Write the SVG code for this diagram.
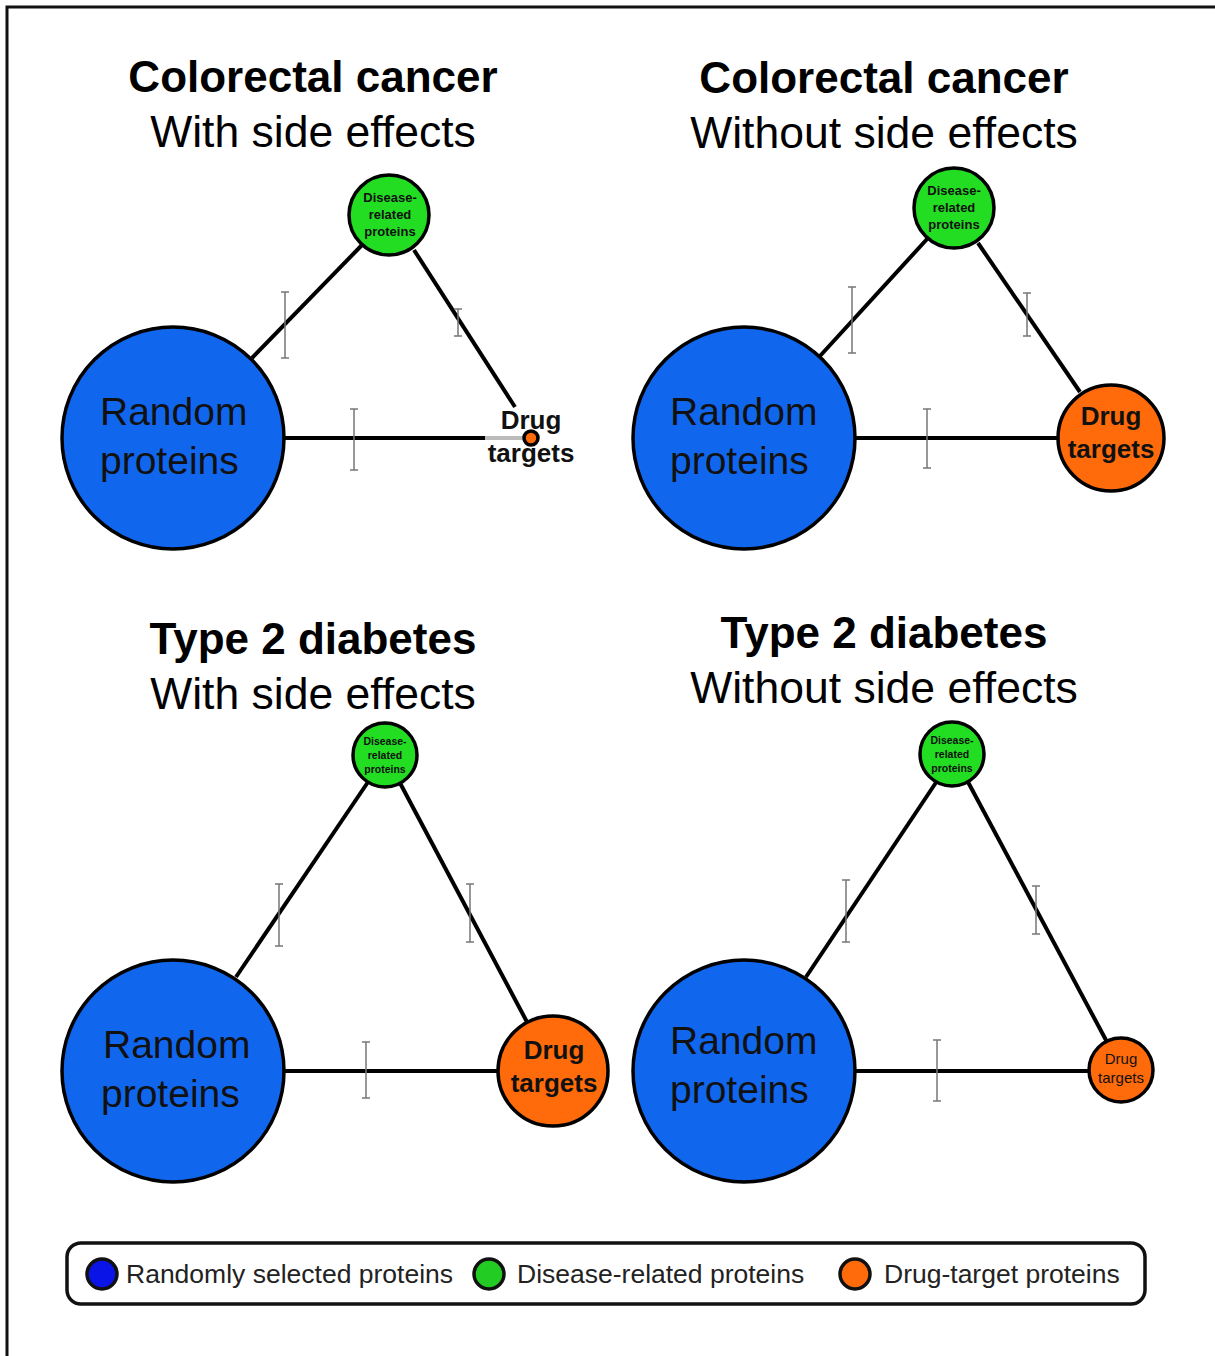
<svg xmlns="http://www.w3.org/2000/svg" width="1215" height="1356" viewBox="0 0 1215 1356">
<style>
.title{font-family:"Liberation Sans",Arial,sans-serif;font-size:44px;font-weight:bold;fill:#000;text-anchor:middle}
.sub{font-family:"Liberation Sans",Arial,sans-serif;font-size:44.5px;fill:#000;text-anchor:middle}
.rand{fill:#1166ee;stroke:#000;stroke-width:3.5}
.dis{fill:#22dd22;stroke:#000;stroke-width:3.5}
.drug{fill:#ff6a0a;stroke:#000;stroke-width:3.5}
.rtxt{font-family:"Liberation Sans",Arial,sans-serif;font-size:39px;fill:#111}
.dtxt{font-family:"Liberation Sans",Arial,sans-serif;font-size:13px;font-weight:bold;fill:#111;text-anchor:middle}
.dtxs{font-family:"Liberation Sans",Arial,sans-serif;font-size:10.5px;font-weight:bold;fill:#111;text-anchor:middle}
.gtxt{font-family:"Liberation Sans",Arial,sans-serif;font-size:26px;font-weight:bold;fill:#111;text-anchor:middle}
.gtxs{font-family:"Liberation Sans",Arial,sans-serif;font-size:15px;fill:#111;text-anchor:middle}
.edge{stroke:#000;stroke-width:4;fill:none}
.tick{stroke:#777;stroke-width:1.5;fill:none}
.leg{font-family:"Liberation Sans",Arial,sans-serif;font-size:26.5px;fill:#222}
</style>
<rect width="1215" height="1356" fill="#fff"/>
<path d="M7,1356 V7 H1215" fill="none" stroke="#111" stroke-width="3"/>

<g id="titles">
<text class="title" x="313" y="92">Colorectal cancer</text>
<text class="sub" x="313" y="147">With side effects</text>
<text class="title" x="884" y="93">Colorectal cancer</text>
<text class="sub" x="884" y="148">Without side effects</text>
<text class="title" x="313" y="654">Type 2 diabetes</text>
<text class="sub" x="313" y="709">With side effects</text>
<text class="title" x="884" y="648">Type 2 diabetes</text>
<text class="sub" x="884" y="703">Without side effects</text>
</g>

<g id="connectors">
<line class="edge" x1="252" y1="358" x2="362" y2="245"/>
<line class="edge" x1="414" y1="250" x2="515" y2="407"/>
<line class="edge" x1="284" y1="438" x2="485" y2="438"/>
<line x1="485" y1="438" x2="525" y2="438" stroke="#bbb" stroke-width="4"/>
<line class="edge" x1="820" y1="356" x2="928" y2="238"/>
<line class="edge" x1="978" y1="243" x2="1080" y2="392"/>
<line class="edge" x1="855" y1="438" x2="1058" y2="438"/>
<line class="edge" x1="236" y1="977" x2="368" y2="782"/>
<line class="edge" x1="400" y1="783" x2="527" y2="1022"/>
<line class="edge" x1="284" y1="1071" x2="498" y2="1071"/>
<line class="edge" x1="806" y1="977" x2="937" y2="781"/>
<line class="edge" x1="968" y1="782" x2="1107" y2="1042"/>
<line class="edge" x1="855" y1="1071" x2="1089" y2="1071"/>
</g>

<g id="errorbars">
<path class="tick" d="M285,292V358M281,292H289M281,358H289"/>
<path class="tick" d="M458,309V336M454,309H462M454,336H462"/>
<path class="tick" d="M354,409V470M350,409H358M350,470H358"/>
<path class="tick" d="M852,287V353M848,287H856M848,353H856"/>
<path class="tick" d="M1027,293V336M1023,293H1031M1023,336H1031"/>
<path class="tick" d="M927,409V468M923,409H931M923,468H931"/>
<path class="tick" d="M279,884V946M275,884H283M275,946H283"/>
<path class="tick" d="M470,884V942M466,884H474M466,942H474"/>
<path class="tick" d="M366,1042V1098M362,1042H370M362,1098H370"/>
<path class="tick" d="M846,880V942M842,880H850M842,942H850"/>
<path class="tick" d="M1036,886V934M1032,886H1040M1032,934H1040"/>
<path class="tick" d="M937,1040V1101M933,1040H941M933,1101H941"/>
</g>

<g id="tl-random"><circle class="rand" cx="173" cy="438" r="111"/><text class="rtxt" x="100" y="425">Random</text><text class="rtxt" x="100" y="474">proteins</text></g>
<g id="tl-disease"><circle class="dis" cx="389" cy="215" r="40"/><text class="dtxt" x="390" y="202">Disease-</text><text class="dtxt" x="390" y="219">related</text><text class="dtxt" x="390" y="236">proteins</text></g>
<g id="tl-drug"><text class="gtxt" x="531" y="429">Drug</text><text class="gtxt" x="531" y="462">targets</text><circle class="drug" cx="531" cy="438" r="7" stroke-width="2.5"/></g>

<g id="tr-random"><circle class="rand" cx="744" cy="438" r="111"/><text class="rtxt" x="670" y="425">Random</text><text class="rtxt" x="670" y="474">proteins</text></g>
<g id="tr-disease"><circle class="dis" cx="954" cy="208" r="40"/><text class="dtxt" x="954" y="195">Disease-</text><text class="dtxt" x="954" y="212">related</text><text class="dtxt" x="954" y="229">proteins</text></g>
<g id="tr-drug"><circle class="drug" cx="1111" cy="438" r="53"/><text class="gtxt" x="1111" y="425">Drug</text><text class="gtxt" x="1111" y="458">targets</text></g>

<g id="bl-random"><circle class="rand" cx="173" cy="1071" r="111"/><text class="rtxt" x="103" y="1058">Random</text><text class="rtxt" x="101" y="1107">proteins</text></g>
<g id="bl-disease"><circle class="dis" cx="385" cy="755" r="32"/><text class="dtxs" x="385" y="745">Disease-</text><text class="dtxs" x="385" y="759">related</text><text class="dtxs" x="385" y="773">proteins</text></g>
<g id="bl-drug"><circle class="drug" cx="553" cy="1071" r="55"/><text class="gtxt" x="554" y="1059">Drug</text><text class="gtxt" x="554" y="1092">targets</text></g>

<g id="br-random"><circle class="rand" cx="744" cy="1071" r="111"/><text class="rtxt" x="670" y="1054">Random</text><text class="rtxt" x="670" y="1103">proteins</text></g>
<g id="br-disease"><circle class="dis" cx="952" cy="754" r="32"/><text class="dtxs" x="952" y="744">Disease-</text><text class="dtxs" x="952" y="758">related</text><text class="dtxs" x="952" y="772">proteins</text></g>
<g id="br-drug"><circle class="drug" cx="1121" cy="1070" r="32"/><text class="gtxs" x="1121" y="1064">Drug</text><text class="gtxs" x="1121" y="1083">targets</text></g>

<g id="legend">
<rect x="67" y="1243" width="1078" height="61" rx="14" fill="#fff" stroke="#111" stroke-width="3.5"/>
<circle cx="102" cy="1274" r="15" fill="#0a14e6" stroke="#111" stroke-width="3.5"/>
<text class="leg" x="126" y="1283">Randomly selected proteins</text>
<circle cx="489" cy="1274" r="15" fill="#22cc22" stroke="#111" stroke-width="3.5"/>
<text class="leg" x="517" y="1283">Disease-related proteins</text>
<circle cx="855" cy="1274" r="15" fill="#ff6a0a" stroke="#111" stroke-width="3.5"/>
<text class="leg" x="884" y="1283">Drug-target proteins</text>
</g>
</svg>
